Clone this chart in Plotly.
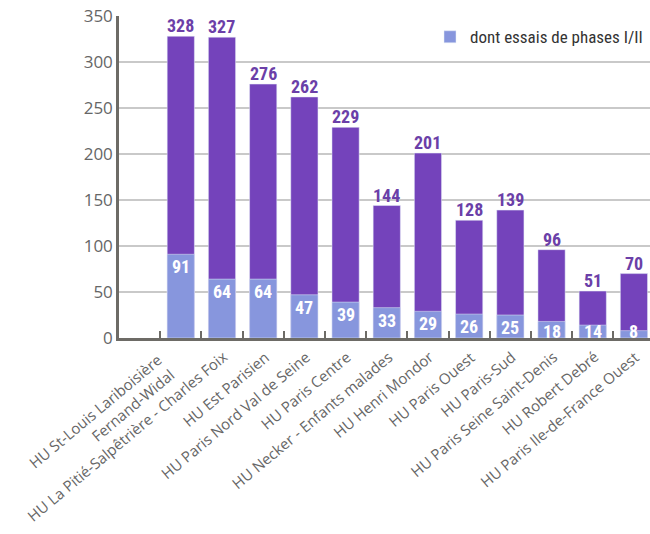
import plotly.graph_objects as go

categories = [
    " ",
    "HU St-Louis Lariboisière<br>Fernand-Widal",
    "HU La Pitié-Salpêtrière - Charles Foix",
    "HU Est Parisien",
    "HU Paris Nord Val de Seine",
    "HU Paris Centre",
    "HU Necker - Enfants malades",
    "HU Henri Mondor",
    "HU Paris Ouest",
    "HU Paris-Sud",
    "HU Paris Seine Saint-Denis",
    "HU Robert Debré",
    "HU Paris Ile-de-France Ouest",
]
totals = [None, 328, 327, 276, 262, 229, 144, 201, 128, 139, 96, 51, 70]
phases = [None, 91, 64, 64, 47, 39, 33, 29, 26, 25, 18, 14, 8]
y_ticks = [0, 50, 100, 150, 200, 250, 300, 350]

DARK = "#7443BB"
LIGHT = "#8796DD"
LABEL = "#6B3FA8"
AXIS = "#6d6b66"
GRID = "#c9c9c9"
NUMFONT = "Liberation Sans Narrow, Noto Sans Condensed, Roboto Condensed, Roboto, sans-serif"
LABFONT = "Open Sans, sans-serif"
MIN_INNER = 21

fig = go.Figure()
fig.add_trace(go.Bar(
    x=categories, y=totals, marker_color=DARK, width=0.66,
    showlegend=False, name="total", hoverinfo="skip",
))
fig.add_trace(go.Bar(
    x=categories, y=phases, marker_color=LIGHT, width=0.66,
    name="dont essais de phases I/II", showlegend=True,
))

annotations = []
for c, t, p in zip(categories, totals, phases):
    if t is not None:
        annotations.append(dict(
            x=c, y=t, xref="x", yref="y", text=str(t), showarrow=False,
            yanchor="bottom", yshift=-2,
            font=dict(family=NUMFONT, size=18, color=LABEL, weight="bold"),
        ))
        annotations.append(dict(
            x=c, y=max(p, MIN_INNER), xref="x", yref="y", text=str(p), showarrow=False,
            yanchor="top", yshift=0,
            font=dict(family=NUMFONT, size=18, color="white", weight="bold"),
        ))
    if c.strip():
        nlines = c.count("<br>") + 1
        annotations.append(dict(
            x=c, y=0, xref="x", yref="paper", text=c, showarrow=False,
            textangle=-40, align="right", xanchor="right", yanchor="top",
            xshift=12 - 12 * (nlines - 1), yshift=-6 - 3 * (nlines - 1),
            font=dict(family=LABFONT, size=15, color="#666666"),
        ))

fig.update_layout(
    width=650, height=534,
    margin=dict(l=119, r=0, t=15.5, b=195.5),
    paper_bgcolor="white", plot_bgcolor="white",
    barmode="overlay",
    annotations=annotations,
    legend=dict(
        x=0.5857, y=0.99, xanchor="left", yanchor="top",
        font=dict(family=NUMFONT, size=17, color="#333333"),
        bgcolor="rgba(0,0,0,0)",
    ),
    xaxis=dict(
        type="category", categoryorder="array", categoryarray=categories,
        range=[-0.5, 12.39], automargin=False,
        showline=True, linecolor=AXIS, linewidth=2.5,
        ticks="inside", tickson="boundaries", ticklen=7, tickwidth=2, tickcolor=AXIS,
        showticklabels=False,
        showgrid=False,
    ),
    yaxis=dict(
        range=[0, 350], tickvals=y_ticks, automargin=False,
        ticklabeloverflow="allow",
        showline=True, linecolor=AXIS, linewidth=2.5,
        showgrid=True, gridcolor=GRID, gridwidth=1.5,
        zeroline=False,
        tickfont=dict(family=LABFONT, size=17, color="#666666"),
    ),
)

fig.write_html(
    "out.html",
    config={"displayModeBar": False},
    post_script="document.body.style.margin='0';document.body.style.overflow='hidden';",
)
